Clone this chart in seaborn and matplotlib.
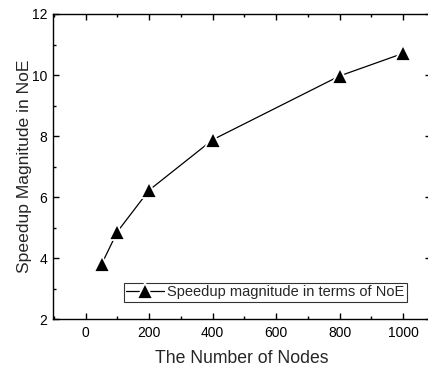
import numpy as np
import pandas as pd
import matplotlib
matplotlib.use('Agg')
import matplotlib.pyplot as plt
from matplotlib.ticker import MultipleLocator
import seaborn as sns

nodes = [50, 100, 200, 400, 800, 1000]
speedup = [3.8, 4.87, 6.23, 7.88, 9.97, 10.71]
series_label = 'Speedup magnitude in terms of NoE'

sns.set_style('ticks')
plt.rcParams['font.family'] = ['Liberation Sans', 'DejaVu Sans']

df = pd.DataFrame({'nodes': nodes, 'speedup': speedup, 'series': series_label})

fig = plt.figure(figsize=(4.28, 3.72), dpi=100)
ax = fig.add_axes([0.1245, 0.1417, 0.8825, 0.8207])

sns.lineplot(data=df, x='nodes', y='speedup', hue='series', palette=['black'],
             marker='^', markersize=11, markeredgecolor='white', markeredgewidth=1.3,
             linewidth=0.9, ax=ax)

ax.set_xlim(-102, 1088)
ax.set_ylim(2, 12)
ax.xaxis.set_major_locator(MultipleLocator(200))
ax.xaxis.set_minor_locator(MultipleLocator(100))
ax.yaxis.set_major_locator(MultipleLocator(2))
ax.yaxis.set_minor_locator(MultipleLocator(1))
ax.tick_params(which='both', direction='in', top=True, right=True, width=1.0,
               colors='black', labelsize=10, pad=4.5)
ax.tick_params(which='major', length=4.3)
ax.tick_params(which='minor', length=2.3)
for sp in ax.spines.values():
    sp.set_visible(True)
    sp.set_linewidth(1.0)
    sp.set_color('black')

ax.set_xlabel('The Number of Nodes', fontsize=12.7)
ax.set_ylabel('Speedup Magnitude in NoE', fontsize=12.6)
ax.xaxis.set_label_coords(0.5, -0.1)
ax.yaxis.set_label_coords(-0.057, 0.5)

leg = ax.legend(loc='lower left', bbox_to_anchor=(0.186, 0.058), borderaxespad=0,
                fontsize=10.5, frameon=True, fancybox=False, handlelength=2.65,
                handletextpad=0.2, borderpad=0.15, title=None)
leg.get_frame().set_edgecolor('black')
leg.get_frame().set_linewidth(0.8)

fig.savefig('out.png', dpi=100)
